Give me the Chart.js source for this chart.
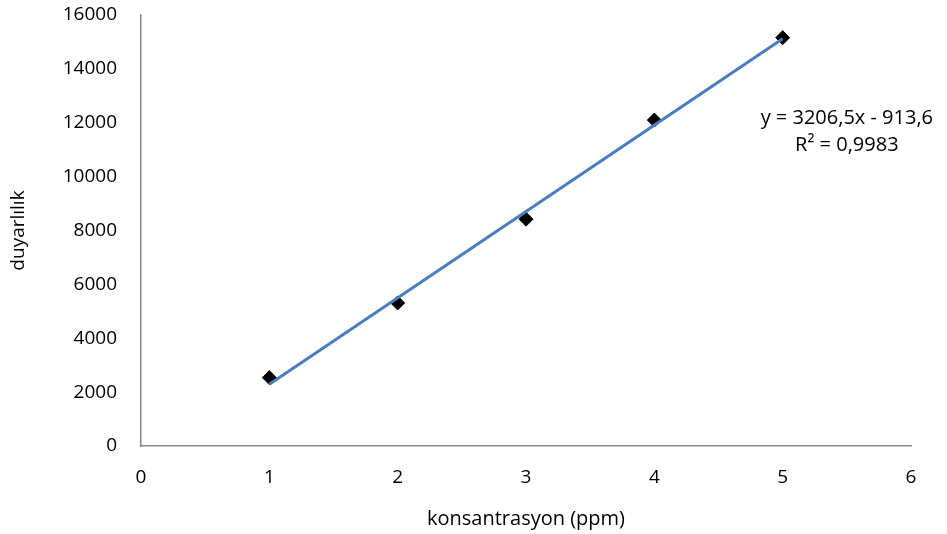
<!DOCTYPE html>
<html><head><meta charset="utf-8">
<script src="https://cdn.jsdelivr.net/npm/chart.js@4/dist/chart.umd.min.js"></script>
<style>html,body{margin:0;padding:0;background:#fff}#wrap{width:947px;height:534px}</style>
</head><body><div id="wrap"><canvas id="c" width="947" height="534"></canvas></div>
<script>
const concentrations = [1, 2, 3, 4, 5];
const sensitivity = [2540, 5310, 8420, 12100, 15160];
const slope = 3206.5;
const intercept = -913.6;
const equationText = 'y = 3206,5x - 913,6';
const r2Text = 'R² = 0,9983';
const xTitle = 'konsantrasyon (ppm)';
const yTitle = 'duyarlılık';

const FONT = '"Open Sans", sans-serif';
const points = concentrations.map((x, i) => ({x, y: sensitivity[i]}));
const xs = [concentrations[0], concentrations[concentrations.length - 1]];
const trend = xs.map(x => ({x, y: slope * x + intercept}));

const annot = {
  id: 'annot',
  afterDatasetsDraw(chart) {
    const {ctx, scales} = chart;
    const cx = scales.x.getPixelForValue(5.5);
    ctx.save();
    ctx.fillStyle = '#000';
    ctx.font = '20px ' + FONT;
    ctx.textAlign = 'center';
    ctx.textBaseline = 'middle';
    ctx.fillText(equationText, cx, scales.y.getPixelForValue(12180));
    ctx.fillText(r2Text, cx, scales.y.getPixelForValue(11180));
    ctx.restore();
  }
};

new Chart(document.getElementById('c'), {
  type: 'scatter',
  data: {
    datasets: [
      { type: 'line', data: trend, borderColor: '#4A7EBB', borderWidth: 3, pointRadius: 0, fill: false, tension: 0 },
      { data: points, pointStyle: 'rectRot', pointRadius: 7, pointHoverRadius: 7,
        backgroundColor: '#000', borderColor: '#000', borderWidth: 1 }
    ]
  },
  options: {
    responsive: false,
    animation: false,
    events: [],
    layout: { padding: { left: 0, right: 36, top: 15, bottom: 0 } },
    plugins: { legend: { display: false }, tooltip: { enabled: false } },
    scales: {
      x: {
        type: 'linear', min: 0, max: 6,
        ticks: { stepSize: 1, padding: 20, color: '#000', font: { family: FONT, size: 19 }, callback: v => String(v) },
        grid: { display: false, drawTicks: false },
        border: { color: '#868686', width: 1.5 },
        title: { display: true, text: xTitle, color: '#000', font: { family: FONT, size: 20 }, padding: { top: 0, bottom: 3 } },
        afterFit(s) { s.height = 88; s.paddingLeft = 0; s.paddingRight = 0; }
      },
      y: {
        min: 0, max: 16000,
        ticks: { stepSize: 2000, padding: 24, color: '#000', font: { family: FONT, size: 19 }, callback: v => String(v) },
        grid: { display: false, drawTicks: false },
        border: { color: '#868686', width: 1.5 },
        title: { display: true, text: yTitle, color: '#000', font: { family: FONT, size: 19 }, padding: { top: 7, bottom: 0 } },
        afterFit(s) { s.width = 141; s.paddingTop = 0; s.paddingBottom = 0; }
      }
    }
  },
  plugins: [annot]
});
</script></body></html>
